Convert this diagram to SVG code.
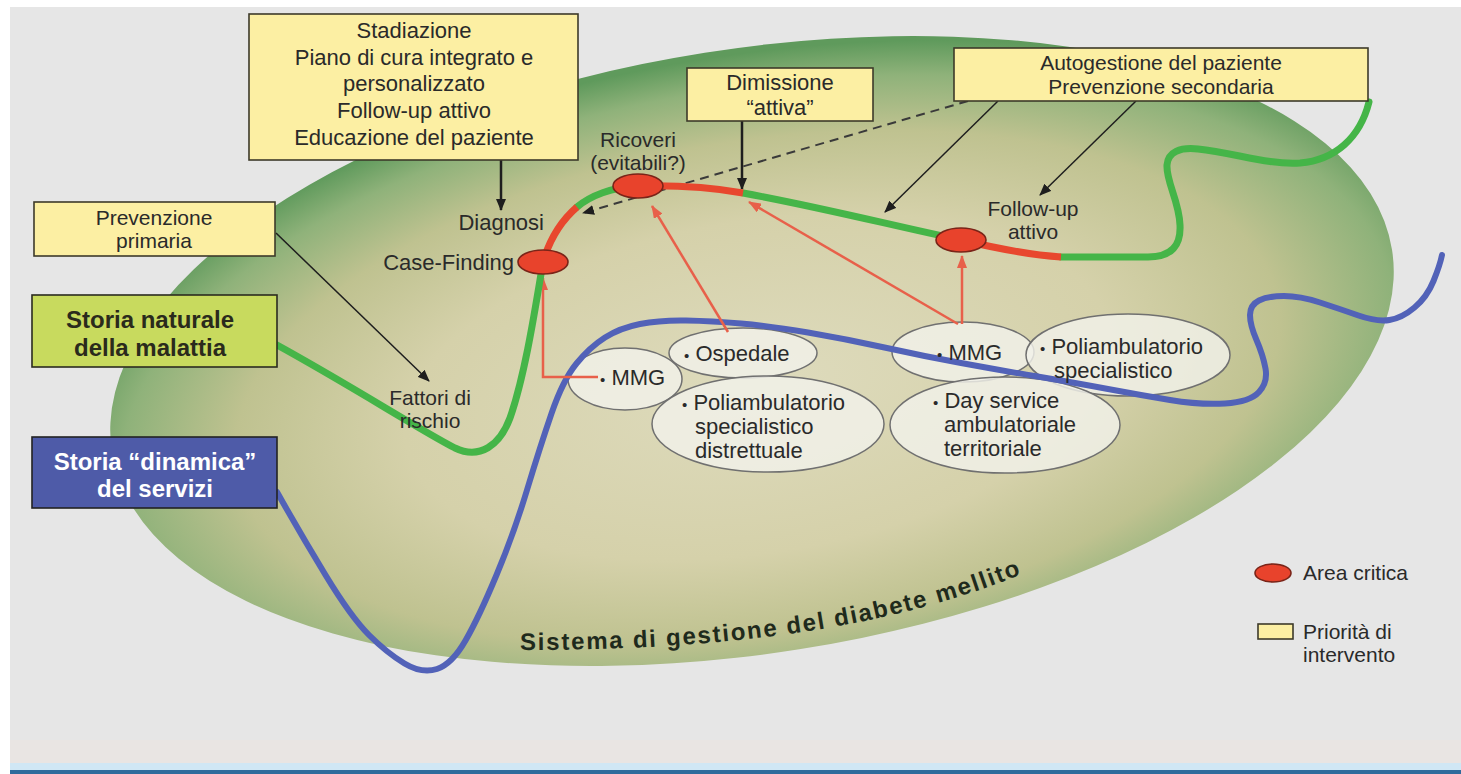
<svg xmlns="http://www.w3.org/2000/svg" width="1461" height="774" viewBox="0 0 1461 774">
<defs>
<style>
text{font-family:"Liberation Sans",Arial,sans-serif;fill:#2a2a2a}
.t21{font-size:21px}
.t22{font-size:22px}
.c{text-anchor:middle}
.e{text-anchor:end}
.box{fill:#fcefa3;stroke:#3d3a2a;stroke-width:1.6}
.svc{fill:#f2f2ea;fill-opacity:0.82;stroke:#707070;stroke-width:1.5}
.crit{fill:#e8432c;stroke:#7a2418;stroke-width:1.6}
.gr{fill:none;stroke:#45b548;stroke-width:7;stroke-linecap:round}
.rd{fill:none;stroke:#e8472e;stroke-width:7;stroke-linecap:butt}
.bl{fill:none;stroke:#5262b8;stroke-width:6;stroke-linecap:round}
.ka{fill:none;stroke:#1e1e1e;stroke-width:1.5;marker-end:url(#ah)}
.kb{fill:none;stroke:#1e1e1e;stroke-width:2.5;marker-end:url(#ah)}
.kd{fill:none;stroke:#3a3a3a;stroke-width:2;stroke-dasharray:9 6;marker-end:url(#ah)}
.ra{fill:none;stroke:#e8604a;stroke-width:2.5;marker-end:url(#ahr)}
</style>
<radialGradient id="eg" cx="0.5" cy="0.56" r="0.55">
<stop offset="0" stop-color="#dedbbd"/>
<stop offset="0.5" stop-color="#d5d1aa"/>
<stop offset="0.74" stop-color="#bfc290"/>
<stop offset="0.9" stop-color="#8fb27a"/>
<stop offset="1" stop-color="#5f9a5c"/>
</radialGradient>
<marker id="ah" markerUnits="userSpaceOnUse" markerWidth="12" markerHeight="10" refX="11" refY="5" orient="auto"><path d="M0,0 L12,5 L0,10 z" fill="#1e1e1e"/></marker>
<marker id="ahr" markerUnits="userSpaceOnUse" markerWidth="13" markerHeight="10" refX="12" refY="5" orient="auto"><path d="M0,0 L13,5 L0,10 z" fill="#e8604a"/></marker>
<path id="sysPath" d="M 520 650 C 700 650 880 635 1034 569"/>
</defs>

<rect x="0" y="0" width="1461" height="774" fill="#ffffff"/>
<rect x="10" y="7" width="1451" height="760" fill="#e6e6e6"/>
<rect x="10" y="740" width="1451" height="24" fill="#e9e5e3"/>
<rect x="10" y="763" width="1451" height="7" fill="#d0e7f5"/>
<rect x="10" y="770" width="1451" height="4" fill="#2f6b9c"/>

<g id="sistema">
<ellipse cx="752" cy="351" rx="648" ry="302" transform="rotate(-9 752 351)" fill="url(#eg)"/>
<text font-size="24" font-weight="bold" letter-spacing="1.8" style="fill:#1f2a1c"><textPath href="#sysPath">Sistema di gestione del diabete mellito</textPath></text>
</g>

<g id="servizi-sx">
<ellipse class="svc" cx="625" cy="379" rx="57" ry="31"/>
<ellipse class="svc" cx="743" cy="353" rx="74" ry="25"/>
<ellipse class="svc" cx="768" cy="424" rx="116" ry="48"/>
</g>
<g id="servizi-dx">
<ellipse class="svc" cx="963" cy="352" rx="71" ry="30"/>
<ellipse class="svc" cx="1128" cy="355" rx="102" ry="41"/>
<ellipse class="svc" cx="1005" cy="425" rx="115" ry="48"/>
</g>

<g id="storia-servizi-curve">
<path class="bl" d="M 277 492 Q 300 533 325.5 575 Q 351 617 369 635 Q 387 653 404.5 663.5 Q 422 674 437 669 Q 452 664 465.5 640.5 Q 479 617 496.5 575 Q 514 533 527 490 Q 540 447 551.5 413.5 Q 563 380 576.5 363.5 Q 590 347 605 337.5 Q 620 328 640 324 Q 660 320 686 320.5 Q 712 321 741 323.5 Q 770 326 808 332.5 Q 846 339 884.5 347.5 Q 923 356 961 363 Q 999 370 1037.5 376.5 Q 1076 383 1108 389 Q 1140 395 1170 400 Q 1200 405 1225 403.5 Q 1250 402 1259 392 Q 1268 382 1265.5 368.5 Q 1263 355 1256.5 340 Q 1250 325 1250 315 Q 1250 305 1259 300.5 Q 1268 296 1284 296 Q 1300 296 1320 302.5 Q 1340 309 1358.5 315.5 Q 1377 322 1389.5 320 Q 1402 318 1414.5 307.5 Q 1427 297 1433.5 281 Q 1440 265 1442 255"/>
</g>

<g id="connectors">
<path class="ra" d="M 598 377 L 543 377 L 543 278"/>
<path class="ra" d="M 728 332 L 652 206"/>
<path class="ra" d="M 958 324 L 749 202"/>
<path class="ra" d="M 962 324 L 962 256"/>
<path class="kb" d="M 501 160 L 501 210"/>
<path class="kb" d="M 742 121 L 742 189"/>
<path class="ka" d="M 276 233 L 429 381"/>
<path class="kd" d="M 968 101 L 583 213"/>
<path class="ka" d="M 998 101 L 885 212"/>
<path class="ka" d="M 1136 101 L 1040 195"/>
</g>

<g id="storia-naturale-curve">
<path class="gr" d="M 277 345 C 350 385 420 430 455 448 C 480 460 500 445 510 418 C 525 375 535 310 543 262"/>
<path class="gr" d="M 577 207 C 590 196 612 187 638 186"/>
<path class="gr" d="M 743 193 C 820 207 890 225 961 240"/>
<path class="gr" d="M 1061 257 L 1148 257 C 1172 257 1181 245 1180 225 C 1179 200 1166 182 1167 165 C 1168 152 1180 147 1198 149 C 1235 153 1268 165 1300 163 C 1335 160 1360 138 1369 102"/>
<path class="rd" d="M 543 262 C 550 238 562 220 577 207"/>
<path class="rd" d="M 638 186 C 680 185 715 188 743 193"/>
<path class="rd" d="M 961 240 C 995 248 1030 255 1061 257"/>
</g>

<g id="aree-critiche">
<ellipse class="crit" cx="543" cy="262" rx="25" ry="12"/>
<ellipse class="crit" cx="638" cy="186" rx="25" ry="12"/>
<ellipse class="crit" cx="961" cy="240" rx="25" ry="12"/>
</g>

<g id="labels">
<text class="t22 e" x="544" y="230">Diagnosi</text>
<text class="t22 e" x="514" y="270">Case-Finding</text>
<text class="t21 c" x="638" y="147">Ricoveri</text>
<text class="t21 c" x="638" y="170">(evitabili?)</text>
<text class="t21 c" x="1033" y="216">Follow-up</text>
<text class="t21 c" x="1033" y="239">attivo</text>
<text class="t21 c" x="430" y="405">Fattori di</text>
<text class="t21 c" x="430" y="428">rischio</text>
</g>

<g id="mmg-sx"><text class="t22" x="600" y="385"><tspan font-size="15">•</tspan> MMG</text></g>
<g id="ospedale"><text class="t22" x="684" y="361"><tspan font-size="15">•</tspan> Ospedale</text></g>
<g id="poliamb-distr"><text class="t22" x="682" y="410"><tspan font-size="15">•</tspan> Poliambulatorio</text><text class="t22" x="695" y="434">specialistico</text><text class="t22" x="695" y="458">distrettuale</text></g>
<g id="mmg-dx"><text class="t22" x="937" y="360"><tspan font-size="15">•</tspan> MMG</text></g>
<g id="poliamb-spec"><text class="t22" x="1040" y="354"><tspan font-size="15">•</tspan> Poliambulatorio</text><text class="t22" x="1054" y="378">specialistico</text></g>
<g id="day-service"><text class="t22" x="933" y="408"><tspan font-size="15">•</tspan> Day service</text><text class="t22" x="944" y="432">ambulatoriale</text><text class="t22" x="944" y="456">territoriale</text></g>

<g id="stadiazione">
<rect class="box" x="249" y="14" width="329" height="146"/>
<text class="t22 c" x="414" y="38">Stadiazione</text>
<text class="t22 c" x="414" y="65">Piano di cura integrato e</text>
<text class="t22 c" x="414" y="91">personalizzato</text>
<text class="t22 c" x="414" y="118">Follow-up attivo</text>
<text class="t22 c" x="414" y="145">Educazione del paziente</text>
</g>

<g id="prevenzione-primaria">
<rect class="box" x="34" y="202" width="241" height="54"/>
<text class="t21 c" x="154" y="225">Prevenzione</text>
<text class="t21 c" x="154" y="248">primaria</text>
</g>

<g id="dimissione">
<rect class="box" x="687" y="68" width="186" height="53"/>
<text class="t22 c" x="780" y="90">Dimissione</text>
<text class="t22 c" x="780" y="115">“attiva”</text>
</g>

<g id="autogestione">
<rect class="box" x="954" y="48" width="414" height="53"/>
<text class="t21 c" x="1161" y="70">Autogestione del paziente</text>
<text class="t21 c" x="1161" y="94">Prevenzione secondaria</text>
</g>

<g id="storia-naturale">
<rect x="32" y="295" width="245" height="72" fill="#c8da5e" stroke="#2b2b20" stroke-width="1.6"/>
<text class="c" x="150" y="328" font-size="24" font-weight="bold" style="fill:#2a2a1c">Storia naturale</text>
<text class="c" x="150" y="356" font-size="24" font-weight="bold" style="fill:#2a2a1c">della malattia</text>
</g>

<g id="storia-dinamica">
<rect x="32" y="437" width="245" height="71" fill="#4e5ba8" stroke="#222" stroke-width="1.6"/>
<text class="c" x="155" y="470" font-size="24" font-weight="bold" style="fill:#ffffff">Storia “dinamica”</text>
<text class="c" x="155" y="497" font-size="24" font-weight="bold" style="fill:#ffffff">del servizi</text>
</g>

<g id="legenda">
<ellipse class="crit" cx="1273" cy="573" rx="18" ry="9"/>
<text class="t21" x="1303" y="580">Area critica</text>
<rect class="box" x="1258" y="624" width="35" height="15"/>
<text class="t21" x="1303" y="639">Priorità di</text>
<text class="t21" x="1303" y="662">intervento</text>
</g>
</svg>
